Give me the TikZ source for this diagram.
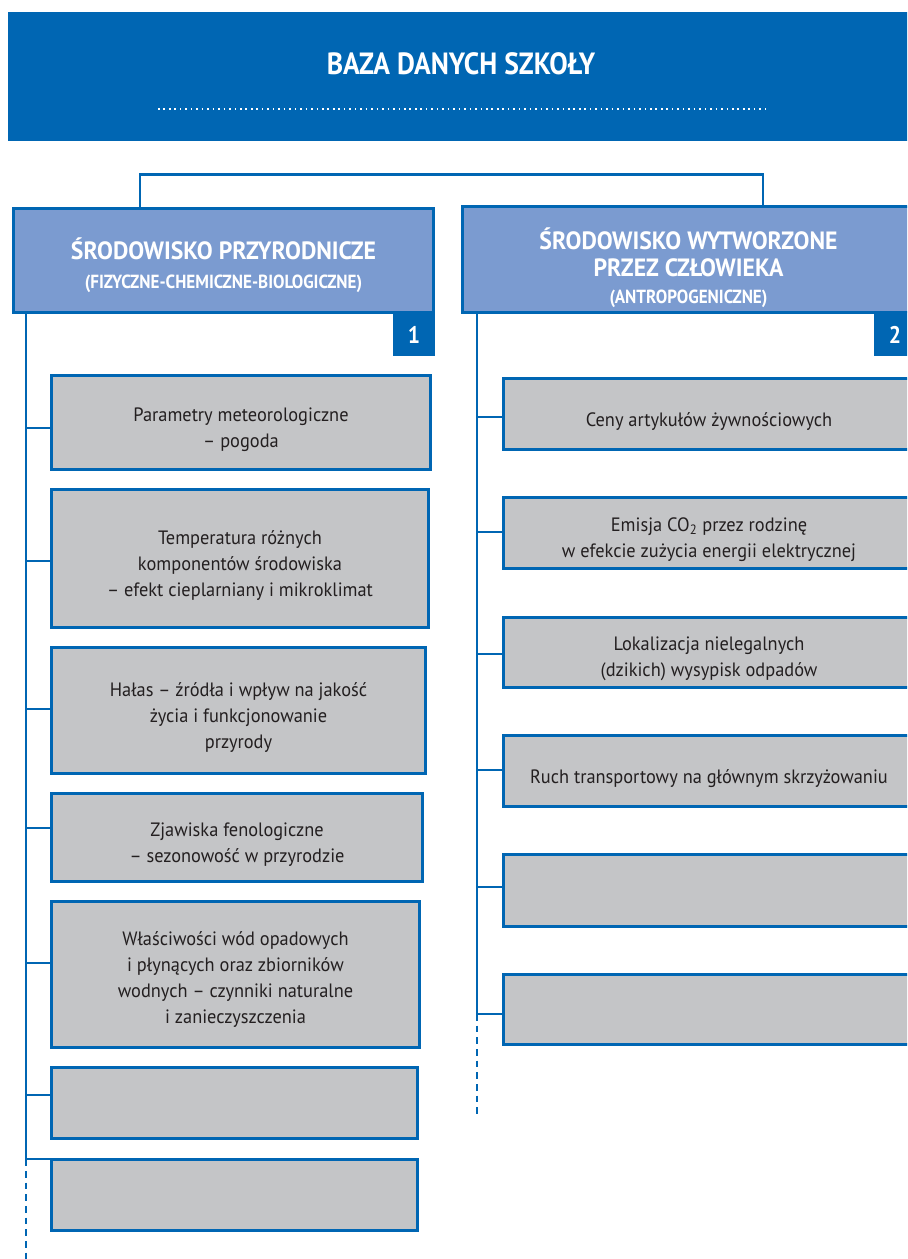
\documentclass[tikz,border=0pt]{standalone}
\usepackage{fontspec}
\setmainfont{PT Sans}
\newfontfamily\itemfamily[FakeStretch=0.95]{PT Sans}
\newfontfamily\headfamily[FakeStretch=0.9]{PT Sans}
\newfontfamily\catfamily[FakeStretch=0.95]{PT Sans}
\definecolor{bblue}{HTML}{0066B3}
\definecolor{catfill}{HTML}{7B9BD0}
\definecolor{igray}{HTML}{C4C5C7}
\definecolor{itext}{HTML}{231F20}
\tikzset{
  item/.style={draw=bblue, fill=igray, line width=2pt, inner sep=0pt, align=center,
    text=itext, font=\itemfamily\fontsize{14.5}{19.5}\selectfont},
  catbox/.style={draw=bblue, fill=catfill, line width=2pt, inner sep=0pt, align=center,
    text=white},
  badge/.style={fill=bblue, inner sep=0pt, text=white,
    font=\headfamily\bfseries\fontsize{18}{18}\selectfont},
  conn/.style={draw=bblue, line width=1.65pt},
  conndash/.style={conn, dash pattern=on 5pt off 3.75pt},
}
% \boxat{style}{name}{x1}{y1}{x2}{y2} -> node spanning the given corners (px)
\newcommand\boxat[6]{\node[#1, minimum width={(#5-#3)*0.75pt}, minimum height={(#6-#4)*0.75pt}] (#2) at ({(#3+#5)/2},{(#4+#6)/2})}
\newcommand\cattitle[1]{{\catfamily\bfseries\fontsize{18.75}{20}\selectfont #1}}
\newcommand\lift[1]{\rule{0pt}{#1}}
\begin{document}
\begin{tikzpicture}[x=0.75pt,y=-0.75pt]
\useasboundingbox (0,0) rectangle (907,1259);
\clip (0,0) rectangle (907,1259);
% header
\boxat{fill=bblue, inner sep=0pt}{head}{7.5}{12}{920}{141.5} {};
\node[text=white, inner sep=0pt, font=\headfamily\bfseries\fontsize{23}{23}\selectfont] (title) at (461,64) {BAZA DANYCH SZKOŁY};
\coordinate (dotA) at (158,109);
\coordinate (dotB) at (765,109);
\draw[white, line width=1.1pt, dash pattern=on 1.2pt off 2.9pt] (dotA) -- (dotB);
% category boxes
\boxat{catbox, font=\headfamily\bfseries\fontsize{14.25}{21.5}\selectfont}{catL}{13.3}{208.3}{433.7}{312.7}
  {\lift{23pt}\cattitle{ŚRODOWISKO PRZYRODNICZE}\\(FIZYCZNE-CHEMICZNE-BIOLOGICZNE)};
\boxat{catbox, font=\headfamily\bfseries\fontsize{14.25}{20.25}\selectfont}{catR}{462.3}{206.3}{914.7}{312.7}
  {\lift{28.25pt}\cattitle{ŚRODOWISKO WYTWORZONE}\\\cattitle{PRZEZ CZŁOWIEKA}\\(ANTROPOGENICZNE)};
\boxat{badge}{b1}{393}{313.5}{435}{356} {1};
\boxat{badge}{b2}{874}{313.5}{916}{356} {2};
% left items
\boxat{item}{l1}{51.3}{375.3}{430.7}{469.7} {\lift{21.5pt}Parametry meteorologiczne\\– pogoda};
\boxat{item}{l2}{51.3}{489.3}{428.7}{627.7} {\lift{21.5pt}Temperatura różnych\\komponentów środowiska\\– efekt cieplarniany i mikroklimat};
\boxat{item}{l3}{51.3}{647.3}{425.7}{773.7} {\lift{21.5pt}Hałas – źródła i wpływ na jakość\\życia i funkcjonowanie\\przyrody};
\boxat{item}{l4}{51.3}{793.3}{422.7}{881.7} {\lift{21.5pt}Zjawiska fenologiczne\\– sezonowość w przyrodzie};
\boxat{item}{l5}{51.3}{901.3}{419.7}{1047.7} {\lift{18pt}Właściwości wód opadowych\\i płynących oraz zbiorników\\wodnych – czynniki naturalne\\i zanieczyszczenia};
\boxat{item}{l6}{51.3}{1067.3}{417.7}{1138.7} {};
\boxat{item}{l7}{51.3}{1159.3}{417.7}{1230.7} {};
% right items
\boxat{item}{r1}{503.3}{378.3}{914.7}{449.7} {\lift{21.5pt}Ceny artykułów żywnościowych};
\boxat{item}{r2}{503.3}{497.3}{914.7}{568.7} {\lift{20pt}Emisja CO\textsubscript{2} przez rodzinę\\w efekcie zużycia energii elektrycznej};
\boxat{item}{r3}{503.3}{617.3}{914.7}{687.7} {\lift{20pt}Lokalizacja nielegalnych\\(dzikich) wysypisk odpadów};
\boxat{item}{r4}{503.3}{735.3}{914.7}{806.7} {\lift{21.5pt}Ruch transportowy na głównym skrzyżowaniu};
\boxat{item}{r5}{503.3}{854.3}{914.7}{926.7} {};
\boxat{item}{r6}{503.3}{974.3}{914.7}{1044.7} {};
% top connector
\coordinate (tl) at (140,174.5);
\coordinate (tr) at (763,174.5);
\draw[conn] (catL.north -| tl) -- (tl) -- (tr) -- (catR.north -| tr);
% left spine
\coordinate (sLend) at (26,1159.3);
\coordinate (sLbot) at (26,1262);
\draw[conn] (catL.south -| sLend) -- (sLend);
\draw[conndash] (sLend) -- (sLbot);
\foreach \n/\y in {1/428,2/561,3/709,4/828,5/963,6/1095}{
  \coordinate (jL\n) at (26,\y);
  \draw[conn] (jL\n) -- (jL\n -| l\n.west);
}
\draw[conn] (sLend) -- (sLend -| l7.west);
% right spine
\coordinate (sRend) at (477,1014);
\coordinate (sRbot) at (477,1118);
\draw[conn] (catR.south -| sRend) -- (sRend);
\draw[conndash] (sRend) -- (sRbot);
\foreach \n/\y in {1/417,2/532,3/654,4/770,5/887,6/1014}{
  \coordinate (jR\n) at (477,\y);
  \draw[conn] (jR\n) -- (jR\n -| r\n.west);
}
\end{tikzpicture}
\end{document}
